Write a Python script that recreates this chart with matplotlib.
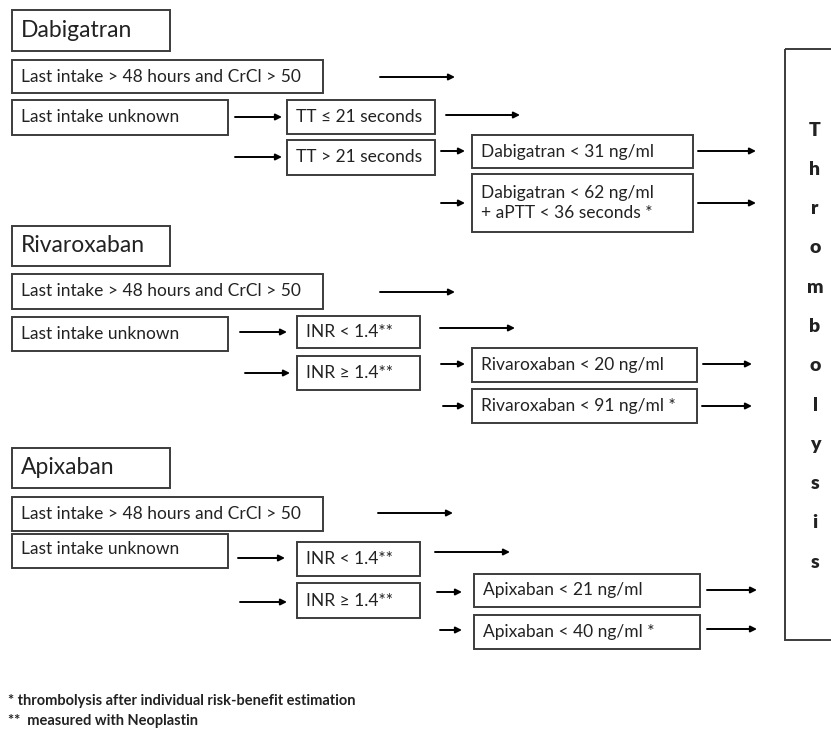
import matplotlib.pyplot as plt
from matplotlib.patches import Rectangle

plt.rcParams['font.family'] = ['Lato', 'DejaVu Sans']

# Flowchart texts
drugs = ['Dabigatran', 'Rivaroxaban', 'Apixaban']
known_intake = 'Last intake > 48 hours and CrCl > 50'
unknown_intake = 'Last intake unknown'
test_low = ['TT \u2264 21 seconds', 'INR < 1.4**', 'INR < 1.4**']
test_high = ['TT > 21 seconds', 'INR \u2265 1.4**', 'INR \u2265 1.4**']
level_low = ['Dabigatran < 31 ng/ml', 'Rivaroxaban < 20 ng/ml', 'Apixaban < 21 ng/ml']
level_high = ['Dabigatran < 62 ng/ml\n+ aPTT < 36 seconds *',
              'Rivaroxaban < 91 ng/ml *', 'Apixaban < 40 ng/ml *']
outcome = 'Thrombolysis'
footnotes = ['* thrombolysis after individual risk-benefit estimation',
             '**  measured with Neoplastin']

# pixel layout of each section (x0, y0, x1, y1)
layout = [
    dict(title=(12, 10, 170, 51), known=(12, 60, 323, 93), unknown=(12, 100, 228, 135),
         known_arrow=(380, 455, 77),
         lo=(287, 100, 435, 134), hi=(287, 140, 435, 175),
         lo_in=(235, 282, 117), hi_in=(235, 282, 157), lo_out=(446, 520, 115),
         l1=(472, 135, 693, 168), l2=(472, 174, 693, 232),
         l1_in=(441, 465, 151), l2_in=(441, 465, 203),
         l1_out=(698, 756, 151), l2_out=(698, 756, 203), unknown_va=0.5),
    dict(title=(12, 226, 170, 266), known=(12, 274, 323, 309), unknown=(12, 317, 228, 351),
         known_arrow=(380, 455, 292),
         lo=(297, 316, 420, 348), hi=(297, 356, 420, 390),
         lo_in=(240, 287, 332), hi_in=(245, 290, 373), lo_out=(440, 515, 328),
         l1=(472, 348, 697, 382), l2=(472, 389, 697, 423),
         l1_in=(441, 465, 364), l2_in=(443, 465, 406),
         l1_out=(703, 752, 364), l2_out=(702, 752, 406), unknown_va=0.5),
    dict(title=(12, 448, 170, 488), known=(12, 497, 323, 531), unknown=(12, 534, 228, 568),
         known_arrow=(378, 453, 513),
         lo=(297, 542, 420, 576), hi=(297, 583, 420, 618),
         lo_in=(238, 285, 558), hi_in=(240, 287, 602), lo_out=(435, 510, 552),
         l1=(474, 574, 700, 607), l2=(474, 615, 700, 649),
         l1_in=(437, 462, 592), l2_in=(440, 462, 630),
         l1_out=(707, 757, 590), l2_out=(707, 757, 629), unknown_va=0.45),
]

W, H = 831, 731
fig = plt.figure(figsize=(W / 100, H / 100), dpi=100)
ax = fig.add_axes([0, 0, 1, 1])
ax.set_xlim(0, W)
ax.set_ylim(H, 0)
ax.axis('off')

EDGE = '#3c3c3c'
TXT = '#222222'


def box(rect, text, size=12.5, va_frac=0.5, weight='normal'):
    x0, y0, x1, y1 = rect
    ax.add_patch(Rectangle((x0, y0), x1 - x0, y1 - y0, fill=False,
                           edgecolor=EDGE, linewidth=1.4))
    ax.text(x0 + 9, y0 + (y1 - y0) * va_frac, text, fontsize=size, color=TXT,
            ha='left', va='center', fontweight=weight, linespacing=1.25)


def arrow(seg):
    x0, x1, y = seg
    ax.annotate('', xy=(x1, y), xytext=(x0, y),
                arrowprops=dict(arrowstyle='-|>', color='black', lw=1.4,
                                mutation_scale=9, shrinkA=0, shrinkB=0))


for i, lay in enumerate(layout):
    box(lay['title'], drugs[i], size=16.5)
    box(lay['known'], known_intake)
    arrow(lay['known_arrow'])
    box(lay['unknown'], unknown_intake, va_frac=lay['unknown_va'])
    box(lay['lo'], test_low[i])
    box(lay['hi'], test_high[i])
    arrow(lay['lo_in'])
    arrow(lay['hi_in'])
    arrow(lay['lo_out'])
    box(lay['l1'], level_low[i])
    box(lay['l2'], level_high[i])
    arrow(lay['l1_in'])
    arrow(lay['l2_in'])
    arrow(lay['l1_out'])
    arrow(lay['l2_out'])

# Thrombolysis box (runs off the right edge)
ax.add_patch(Rectangle((785, 49), 60, 591, fill=False, edgecolor=EDGE,
                       linewidth=1.4, clip_on=True))
letter_y0, letter_step = 130, 39.3
for k, ch in enumerate(outcome):
    ax.text(815, letter_y0 + k * letter_step, ch.lower() if k else ch,
            fontsize=14, fontweight='heavy', color=TXT, ha='center', va='center')

ax.text(8, 701, footnotes[0], fontsize=10.5, fontweight='bold', color=TXT,
        ha='left', va='center')
ax.text(8, 721, footnotes[1], fontsize=10.5, fontweight='bold', color=TXT,
        ha='left', va='center')

fig.savefig('out.png', dpi=100, facecolor='white')
